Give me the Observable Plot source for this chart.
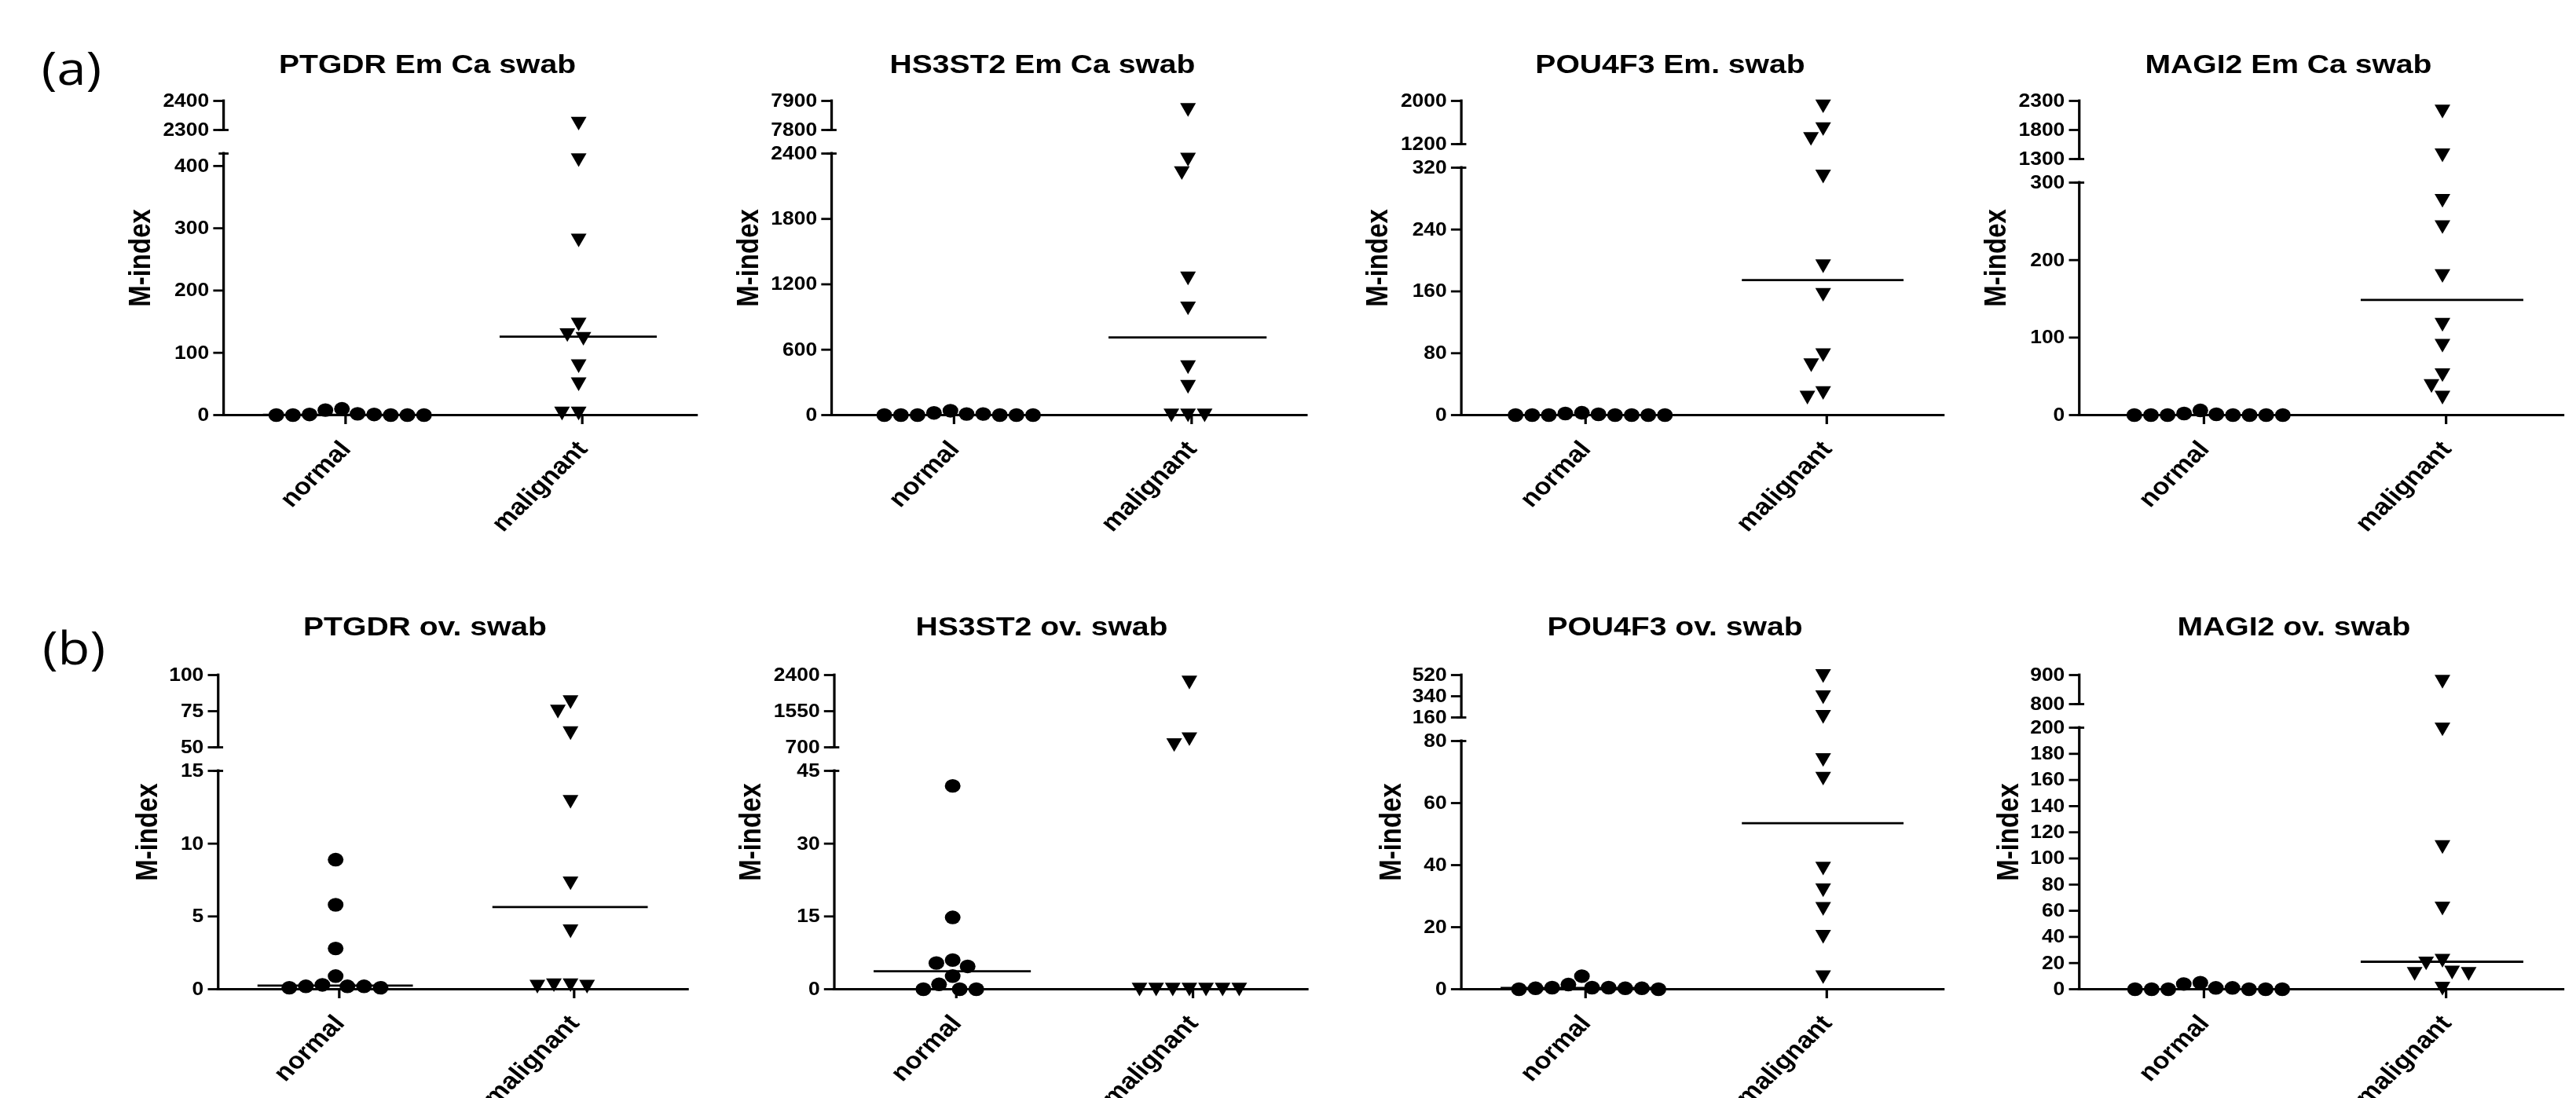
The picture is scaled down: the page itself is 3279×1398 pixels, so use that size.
<!DOCTYPE html>
<html><head><meta charset="utf-8">
<script src="https://cdn.jsdelivr.net/npm/d3@7"></script>
<script src="https://cdn.jsdelivr.net/npm/@observablehq/plot@0.6"></script>
<style>
html,body{margin:0;padding:0;background:#fff;}
#frame{position:relative;width:3279px;height:1398px;overflow:hidden;background:#fff;}
#root{position:absolute;left:0;top:0;height:1398px;transform-origin:0 0;}
.panel{position:absolute;}
.title{position:absolute;width:600px;text-align:center;font:bold 34px/34px 'Liberation Sans',Arial,sans-serif;color:#000;white-space:nowrap;}
.tag{position:absolute;font:400 58px/58px 'Open Sans',sans-serif;color:#000;white-space:nowrap;}
</style></head><body><div id="frame"><div id="root"></div></div>
<script>
// ---------- data ----------
const groups = ["normal", "malignant"];
const panelTags = ["(a)", "(b)"];
const yLabel = "M-index";
const titles = ["PTGDR Em Ca swab", "HS3ST2 Em Ca swab", "POU4F3 Em. swab", "MAGI2 Em Ca swab",
                "PTGDR ov. swab", "HS3ST2 ov. swab", "POU4F3 ov. swab", "MAGI2 ov. swab"];

const ptgdrEmNormal = [10, 8, 2, 1, 1, 0, 0, 0, 0, 0];
const ptgdrEmMalignant = [2323, 410, 281, 146, 129, 123, 79, 50, 3, 3];
const hs3st2EmNormal = [40, 20, 10, 10, 0, 0, 0, 0, 0, 0];
const hs3st2EmMalignant = [7870, 2347, 2224, 1257, 982, 443, 263, 0, 0, 0];
const pou4f3EmNormal = [3, 2, 1, 0, 0, 0, 0, 0, 0, 0];
const pou4f3EmMalignant = [1907, 1485, 1303, 309, 193, 156, 78, 65, 29, 23];
const magi2EmNormal = [6, 2, 1, 0, 0, 0, 0, 0, 0, 0];
const magi2EmMalignant = [2123, 1371, 277, 243, 180, 117, 90, 52, 38, 23];
const ptgdrOvNormal = [8.9, 5.8, 2.8, 0.9, 0.3, 0.2, 0.2, 0.2, 0.1, 0.1];
const ptgdrOvMalignant = [81.5, 75, 60, 12.9, 7.3, 4.0, 0.3, 0.3, 0.2, 0.2];
const hs3st2OvNormal = [41.9, 14.8, 6.0, 5.4, 4.7, 2.7, 1.0, 0, 0, 0];
const hs3st2OvMalignant = [2233, 899, 761, 0, 0, 0, 0, 0, 0, 0];
const pou4f3OvNormal = [4.2, 1.5, 0.5, 0.5, 0.5, 0.3, 0.3, 0.3, 0, 0];
const pou4f3OvMalignant = [515, 335, 168, 74, 68, 39, 32, 26, 17, 4];
const magi2OvNormal = [5, 4, 1, 1, 0, 0, 0, 0, 0, 0];
const magi2OvMalignant = [878, 199, 109, 62, 22, 20, 13, 12, 12, 0.7];

const normalSeries = [ptgdrEmNormal, hs3st2EmNormal, pou4f3EmNormal, magi2EmNormal,
                      ptgdrOvNormal, hs3st2OvNormal, pou4f3OvNormal, magi2OvNormal];
const malignantSeries = [ptgdrEmMalignant, hs3st2EmMalignant, pou4f3EmMalignant, magi2EmMalignant,
                         ptgdrOvMalignant, hs3st2OvMalignant, pou4f3OvMalignant, magi2OvMalignant];

// broken-axis segments and tick labels
const lowerTicks = [[0,100,200,300,400],[0,600,1200,1800,2400],[0,80,160,240,320],[0,100,200,300],
                    [0,5,10,15],[0,15,30,45],[0,20,40,60,80],[0,20,40,60,80,100,120,140,160,180,200]];
const upperTicks = [[2300,2400],[7800,7900],[1200,2000],[1300,1800,2300],
                    [50,75,100],[700,1550,2400],[160,340,520],[800,900]];
const lowerTop = [420, 2400, 320, 300, 15, 45, 80, 200];
const upperBottom = [2300, 7800, 1200, 1300, 50, 700, 160, 800];
const upperTop = [2400, 7900, 2000, 2300, 100, 2400, 520, 900];

// ---------- layout (reference pixels; the page is stretched horizontally by S) ----------
const S = 1.15;
const layout = [
  {axis: 284,  end: 887,  row: 0, upperH: 37, titleX: 544},
  {axis: 1057, end: 1664, row: 0, upperH: 37, titleX: 1327},
  {axis: 1859, end: 2474, row: 0, upperH: 55, titleX: 2126},
  {axis: 2646, end: 3263, row: 0, upperH: 74, titleX: 2913},
  {axis: 276,  end: 876,  row: 1, upperH: 92, titleX: 541},
  {axis: 1060, end: 1664, row: 1, upperH: 92, titleX: 1326},
  {axis: 1859, end: 2474, row: 1, upperH: 54, titleX: 2132},
  {axis: 2646, end: 3263, row: 1, upperH: 37, titleX: 2920}
];
const rowTop = [100, 830.5];   // svg top; first tick sits MT below
const titleTop = [64, 780];
const tagPos = [{cx: 91, top: 57}, {cx: 94, top: 795}];

const triangleDown = {
  draw(context, size) {
    const r = Math.sqrt(size / Math.PI);
    const w = r * 1.0, h = r;
    context.moveTo(-w, -h * 0.95);
    context.lineTo(w, -h * 0.95);
    context.lineTo(0, h * 1.05);
    context.closePath();
  }
};

const ML = 150, MR = 12, MT = 28, MB = 146, H = 574, GAP = 30;

function makePanel(i) {
  const L = layout[i];
  const W = ML + (L.end - L.axis) / S + MR;
  const y0 = H - MB;
  const norm = normalSeries[i].map(v => ({g: groups[0], v}));
  const mal = malignantSeries[i].map(v => ({g: groups[1], v}));
  const med = [{g: groups[0], m: d3.median(normalSeries[i])}, {g: groups[1], m: d3.median(malignantSeries[i])}];
  const segs = [{g: groups[0], y1: 0, y2: lowerTop[i]}, {g: groups[0], y1: upperBottom[i], y2: upperTop[i]}];
  const caps = [{g: groups[0], y: lowerTop[i]}, {g: groups[0], y: upperBottom[i]}];
  const ticks = [...lowerTicks[i], ...upperTicks[i]];
  const digits = d3.max(ticks, t => String(t).length);
  const labelOffset = 36 + 14 * digits;
  return Plot.plot({
    width: W, height: H,
    marginLeft: ML, marginRight: MR, marginTop: MT, marginBottom: MB,
    style: {fontFamily: "'Liberation Sans', Arial, sans-serif", fontWeight: "bold", fontSize: "23px",
            color: "black", background: "transparent", overflow: "visible", maxWidth: "none"},
    fx: {domain: groups, padding: 0, label: null},
    x: {type: "linear", domain: [-1, 1], axis: null},
    y: {type: "linear", domain: [0, lowerTop[i], upperBottom[i], upperTop[i]],
        range: [y0, MT + L.upperH + GAP, MT + L.upperH, MT]},
    marks: [
      Plot.ruleY([0], {strokeWidth: 2.8, strokeLinecap: "square"}),
      Plot.ruleX(segs, {fx: "g", x: -1, y1: "y1", y2: "y2", strokeWidth: 2.8, strokeLinecap: "square"}),
      Plot.ruleY(caps, {fx: "g", y: "y", x1: -1, x2: -1, insetLeft: -5, insetRight: -6, strokeWidth: 2.8}),
      Plot.axisY({ticks, tickFormat: "d", tickSize: 11, tickPadding: 5, strokeWidth: 2.8, label: null, fontSize: 23}),
      Plot.axisFx({anchor: "bottom", label: null, tickSize: 12, tickPadding: 26, dx: 4, tickRotate: -48, fontSize: 30, strokeWidth: 2.8}),
      Plot.text([yLabel], {fx: () => groups[0], text: d => d, frameAnchor: "left", textAnchor: "middle",
                           dx: -labelOffset, rotate: -90, fontSize: 33}),
      Plot.ruleY(med, {fx: "g", y: "m", insetLeft: 44, insetRight: 44, strokeWidth: 2.8}),
      Plot.dot(norm, Plot.dodgeX({anchor: "middle", padding: 1}, {fx: "g", y: "v", r: 8.7, fill: "black", stroke: "none"})),
      Plot.dot(mal, Plot.dodgeX({anchor: "middle", padding: 1}, {fx: "g", y: "v", r: 8.7, symbol: triangleDown, fill: "black", stroke: "none"}))
    ]
  });
}

const root = document.getElementById("root");
root.style.width = (3279 / S) + "px";
root.style.transform = `scaleX(${S})`;
layout.forEach((L, i) => {
  const div = document.createElement("div");
  div.className = "panel";
  div.style.left = (L.axis / S - ML) + "px";
  div.style.top = rowTop[L.row] + "px";
  const svg = makePanel(i);
  div.style.width = svg.getAttribute("width") + "px";
  div.appendChild(svg);
  root.appendChild(div);
  const t = document.createElement("div");
  t.className = "title";
  t.textContent = titles[i];
  t.style.left = (L.titleX / S - 300) + "px";
  t.style.top = titleTop[L.row] + "px";
  root.appendChild(t);
});
panelTags.forEach((tag, r) => {
  const d = document.createElement("div");
  d.className = "tag";
  d.textContent = tag;
  d.style.left = (tagPos[r].cx / S - 100) + "px";
  d.style.width = "200px";
  d.style.textAlign = "center";
  d.style.top = tagPos[r].top + "px";
  root.appendChild(d);
});
</script></body></html>
